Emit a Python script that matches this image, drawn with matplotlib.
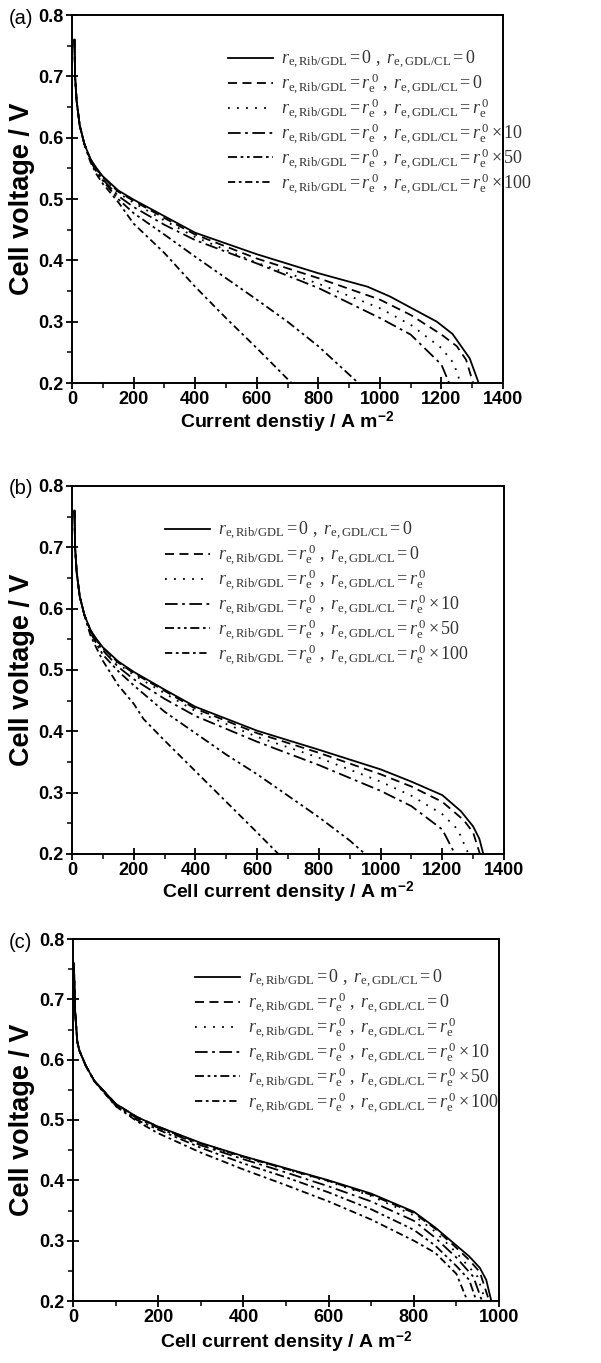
import matplotlib
matplotlib.use("Agg")
import matplotlib.pyplot as plt
from matplotlib.ticker import MultipleLocator, FormatStrFormatter

plt.rcParams['mathtext.fontset'] = 'custom'
plt.rcParams['mathtext.rm'] = 'Liberation Serif'
plt.rcParams['mathtext.it'] = 'Liberation Serif:italic'
plt.rcParams['mathtext.bf'] = 'Liberation Sans:bold'
plt.rcParams['font.family'] = ['Liberation Sans', 'DejaVu Sans']

# ---------------- data ----------------
# Panel (a)
a_solid_x = [8, 10, 15, 25, 40, 60, 80, 100, 150, 200, 300, 400, 600, 800, 960, 1033, 1185, 1236, 1292, 1321]
a_solid_v = [0.76, 0.70, 0.66, 0.62, 0.59, 0.565, 0.55, 0.537, 0.514, 0.499, 0.472, 0.445, 0.410, 0.379, 0.357, 0.341, 0.300, 0.280, 0.240, 0.200]
a_dash_x = [8, 10, 15, 25, 40, 60, 80, 100, 150, 200, 300, 400, 600, 800, 1000, 1100, 1200, 1250, 1280, 1303]
a_dash_v = [0.76, 0.70, 0.66, 0.62, 0.59, 0.565, 0.549, 0.536, 0.512, 0.497, 0.469, 0.442, 0.403, 0.371, 0.336, 0.311, 0.279, 0.260, 0.238, 0.200]
a_dot_x = [8, 10, 15, 25, 40, 60, 80, 100, 150, 200, 300, 400, 600, 800, 1000, 1100, 1200, 1240, 1262]
a_dot_v = [0.76, 0.70, 0.66, 0.62, 0.59, 0.564, 0.548, 0.535, 0.510, 0.494, 0.465, 0.438, 0.396, 0.362, 0.322, 0.295, 0.257, 0.232, 0.200]
a_x10_x = [8, 10, 15, 25, 40, 60, 80, 100, 150, 200, 300, 400, 600, 800, 1000, 1100, 1200, 1225]
a_x10_v = [0.76, 0.70, 0.66, 0.62, 0.59, 0.563, 0.546, 0.532, 0.505, 0.487, 0.458, 0.433, 0.395, 0.355, 0.306, 0.279, 0.230, 0.200]
a_x50_x = [8, 10, 15, 25, 40, 60, 80, 100, 150, 200, 300, 400, 500, 600, 700, 800, 930]
a_x50_v = [0.76, 0.70, 0.66, 0.62, 0.59, 0.562, 0.544, 0.530, 0.500, 0.477, 0.442, 0.406, 0.371, 0.336, 0.300, 0.260, 0.200]
a_x100_x = [8, 10, 15, 25, 40, 60, 80, 100, 150, 200, 300, 400, 500, 600, 713]
a_x100_v = [0.76, 0.70, 0.66, 0.62, 0.59, 0.560, 0.540, 0.525, 0.495, 0.460, 0.412, 0.357, 0.306, 0.257, 0.200]

# Panel (b)
b_solid_x = [8, 10, 15, 25, 40, 60, 80, 100, 150, 200, 300, 400, 600, 800, 1000, 1100, 1200, 1260, 1300, 1320, 1333]
b_solid_v = [0.76, 0.70, 0.66, 0.62, 0.59, 0.565, 0.55, 0.537, 0.514, 0.497, 0.468, 0.440, 0.401, 0.370, 0.338, 0.318, 0.296, 0.270, 0.245, 0.225, 0.200]
b_dash_x = [8, 10, 15, 25, 40, 60, 80, 100, 150, 200, 300, 400, 600, 800, 1000, 1100, 1200, 1270, 1300, 1322]
b_dash_v = [0.76, 0.70, 0.66, 0.62, 0.59, 0.565, 0.549, 0.536, 0.512, 0.495, 0.466, 0.437, 0.397, 0.365, 0.330, 0.310, 0.285, 0.255, 0.235, 0.200]
b_dot_x = [8, 10, 15, 25, 40, 60, 80, 100, 150, 200, 300, 400, 600, 800, 1000, 1100, 1200, 1250, 1285]
b_dot_v = [0.76, 0.70, 0.66, 0.62, 0.59, 0.564, 0.548, 0.535, 0.510, 0.492, 0.462, 0.433, 0.391, 0.357, 0.318, 0.295, 0.265, 0.240, 0.200]
b_x10_x = [8, 10, 15, 25, 40, 60, 80, 100, 150, 200, 300, 400, 600, 800, 1000, 1100, 1200, 1241]
b_x10_v = [0.76, 0.70, 0.66, 0.62, 0.59, 0.563, 0.546, 0.532, 0.505, 0.485, 0.453, 0.425, 0.383, 0.345, 0.303, 0.278, 0.240, 0.200]
b_x50_x = [8, 10, 15, 25, 40, 60, 80, 100, 150, 200, 300, 400, 500, 600, 700, 800, 900, 950]
b_x50_v = [0.76, 0.70, 0.66, 0.62, 0.59, 0.561, 0.542, 0.525, 0.498, 0.475, 0.432, 0.397, 0.362, 0.330, 0.295, 0.260, 0.222, 0.200]
b_x100_x = [8, 10, 15, 25, 40, 60, 80, 100, 150, 200, 232, 300, 400, 500, 600, 669]
b_x100_v = [0.76, 0.70, 0.66, 0.62, 0.59, 0.556, 0.535, 0.515, 0.475, 0.445, 0.420, 0.385, 0.335, 0.285, 0.235, 0.200]

# Panel (c)
c_solid_x = [2, 5, 10, 15, 30, 50, 100, 150, 200, 300, 400, 500, 600, 700, 800, 850, 870, 900, 930, 955, 970, 982]
c_solid_v = [0.76, 0.68, 0.63, 0.615, 0.59, 0.565, 0.527, 0.505, 0.489, 0.462, 0.440, 0.420, 0.400, 0.378, 0.348, 0.322, 0.310, 0.292, 0.274, 0.255, 0.235, 0.200]
c_dash_x = [2, 5, 10, 15, 30, 50, 100, 150, 200, 300, 400, 500, 600, 700, 800, 850, 900, 930, 955, 977]
c_dash_v = [0.76, 0.68, 0.63, 0.615, 0.59, 0.565, 0.527, 0.505, 0.489, 0.461, 0.439, 0.419, 0.399, 0.376, 0.346, 0.320, 0.288, 0.268, 0.248, 0.200]
c_dot_x = [2, 5, 10, 15, 30, 50, 100, 150, 200, 300, 400, 500, 600, 700, 800, 850, 900, 950, 968]
c_dot_v = [0.76, 0.68, 0.63, 0.615, 0.59, 0.565, 0.526, 0.504, 0.488, 0.460, 0.438, 0.418, 0.398, 0.374, 0.342, 0.315, 0.280, 0.240, 0.200]
c_x10_x = [2, 5, 10, 15, 30, 50, 100, 150, 200, 300, 400, 500, 600, 700, 800, 850, 900, 940, 960]
c_x10_v = [0.76, 0.68, 0.63, 0.615, 0.59, 0.565, 0.525, 0.503, 0.487, 0.458, 0.435, 0.413, 0.390, 0.365, 0.333, 0.305, 0.272, 0.240, 0.200]
c_x50_x = [2, 5, 10, 15, 30, 50, 100, 150, 200, 300, 400, 500, 600, 700, 800, 850, 900, 930, 947]
c_x50_v = [0.76, 0.68, 0.63, 0.615, 0.59, 0.565, 0.524, 0.500, 0.484, 0.454, 0.428, 0.405, 0.380, 0.352, 0.318, 0.292, 0.258, 0.235, 0.200]
c_x100_x = [2, 5, 10, 15, 30, 50, 100, 150, 200, 300, 400, 500, 600, 700, 800, 850, 900, 926]
c_x100_v = [0.76, 0.68, 0.63, 0.615, 0.59, 0.564, 0.523, 0.498, 0.478, 0.446, 0.418, 0.392, 0.365, 0.335, 0.300, 0.280, 0.245, 0.200]

legend_labels = [
    r'$r_{\mathrm{e,Rib/GDL}}=0\ ,\ r_{\mathrm{e,GDL/CL}}=0$',
    r'$r_{\mathrm{e,Rib/GDL}}=r_{\mathrm{e}}^{\,0}\ ,\ r_{\mathrm{e,GDL/CL}}=0$',
    r'$r_{\mathrm{e,Rib/GDL}}=r_{\mathrm{e}}^{\,0}\ ,\ r_{\mathrm{e,GDL/CL}}=r_{\mathrm{e}}^{\,0}$',
    r'$r_{\mathrm{e,Rib/GDL}}=r_{\mathrm{e}}^{\,0}\ ,\ r_{\mathrm{e,GDL/CL}}=r_{\mathrm{e}}^{\,0}\times 10$',
    r'$r_{\mathrm{e,Rib/GDL}}=r_{\mathrm{e}}^{\,0}\ ,\ r_{\mathrm{e,GDL/CL}}=r_{\mathrm{e}}^{\,0}\times 50$',
    r'$r_{\mathrm{e,Rib/GDL}}=r_{\mathrm{e}}^{\,0}\ ,\ r_{\mathrm{e,GDL/CL}}=r_{\mathrm{e}}^{\,0}\times 100$',
]

panel_letters = ['(a)', '(b)', '(c)']
xlabels = [r'Current denstiy / A m$^{\mathbf{-2}}$',
           r'Cell current density / A m$^{\mathbf{-2}}$',
           r'Cell current density / A m$^{\mathbf{-2}}$']
ylabel = 'Cell voltage / V'
xmax = [1400, 1400, 1000]

# ---------------- styles ----------------
styles = [
    dict(linestyle='-'),
    dict(linestyle=(0, (5, 3))),
    dict(linestyle=(0, (1, 4))),
    dict(linestyle=(0, (7, 2.5, 1.5, 2.5))),
    dict(linestyle=(0, (5, 2, 1.5, 2, 1.5, 2))),
    dict(linestyle=(0, (4, 2, 1.5, 2))),
]

panels = [
    [(a_solid_x, a_solid_v), (a_dash_x, a_dash_v), (a_dot_x, a_dot_v),
     (a_x10_x, a_x10_v), (a_x50_x, a_x50_v), (a_x100_x, a_x100_v)],
    [(b_solid_x, b_solid_v), (b_dash_x, b_dash_v), (b_dot_x, b_dot_v),
     (b_x10_x, b_x10_v), (b_x50_x, b_x50_v), (b_x100_x, b_x100_v)],
    [(c_solid_x, c_solid_v), (c_dash_x, c_dash_v), (c_dot_x, c_dot_v),
     (c_x10_x, c_x10_v), (c_x50_x, c_x50_v), (c_x100_x, c_x100_v)],
]

W, H = 601, 1363
fig = plt.figure(figsize=(W / 100, H / 100), dpi=100)

# axes boxes in pixels: left, top, right, bottom
boxes = [(72, 15, 503, 383), (72, 486, 504, 854), (73, 939, 499, 1301)]
# legend handle left edge (px) and top of first entry (px)
legend_px = [(228, 49), (165, 520), (195, 968)]
# x-label top (px)
xlabel_top = [410, 880, 1330]

for i, (l, t, r, b) in enumerate(boxes):
    ax = fig.add_axes([l / W, 1 - b / H, (r - l) / W, (b - t) / H])
    for j, (xs, vs) in enumerate(panels[i]):
        ax.plot(xs, vs, color='black', lw=1.3, label=legend_labels[j],
                dash_capstyle='butt', **styles[j])
    ax.set_xlim(0, xmax[i])
    ax.set_ylim(0.2, 0.8)
    ax.xaxis.set_major_locator(MultipleLocator(200))
    ax.xaxis.set_minor_locator(MultipleLocator(100))
    ax.yaxis.set_major_locator(MultipleLocator(0.1))
    ax.yaxis.set_minor_locator(MultipleLocator(0.05))
    ax.yaxis.set_major_formatter(FormatStrFormatter('%.1f'))
    ax.tick_params(which='major', direction='inout', length=8, width=1.3,
                   labelsize=13, pad=2)
    ax.tick_params(which='minor', direction='out', length=3.5, width=1.1)
    ax.tick_params(top=False, right=False, which='both')
    for lab in ax.get_xticklabels() + ax.get_yticklabels():
        lab.set_fontweight('bold')
    for sp in ax.spines.values():
        sp.set_linewidth(1.4)
    wpx, hpx = r - l, b - t
    ax.set_xlabel(xlabels[i], fontsize=14, fontweight='bold')
    ax.xaxis.set_label_coords(0.5, -(xlabel_top[i] - b) / hpx)
    ax.set_ylabel(ylabel, fontsize=19.5, fontweight='bold')
    ax.yaxis.set_label_coords(-(l - 35) / wpx, 0.5)
    lx, ly = legend_px[i]
    leg = ax.legend(loc='upper left',
                    bbox_to_anchor=((lx - l) / wpx, 1 - (ly - t) / hpx),
                    frameon=False, fontsize=13, handlelength=2.5,
                    handletextpad=0.45, labelspacing=0.02, borderaxespad=0,
                    borderpad=0)
    for txt in leg.get_texts():
        txt.set_color('#333333')
    fig.text(9 / W, 1 - (t + 3) / H, panel_letters[i], fontsize=14.5,
             ha='left', va='center')

fig.savefig('out.png', dpi=100)
